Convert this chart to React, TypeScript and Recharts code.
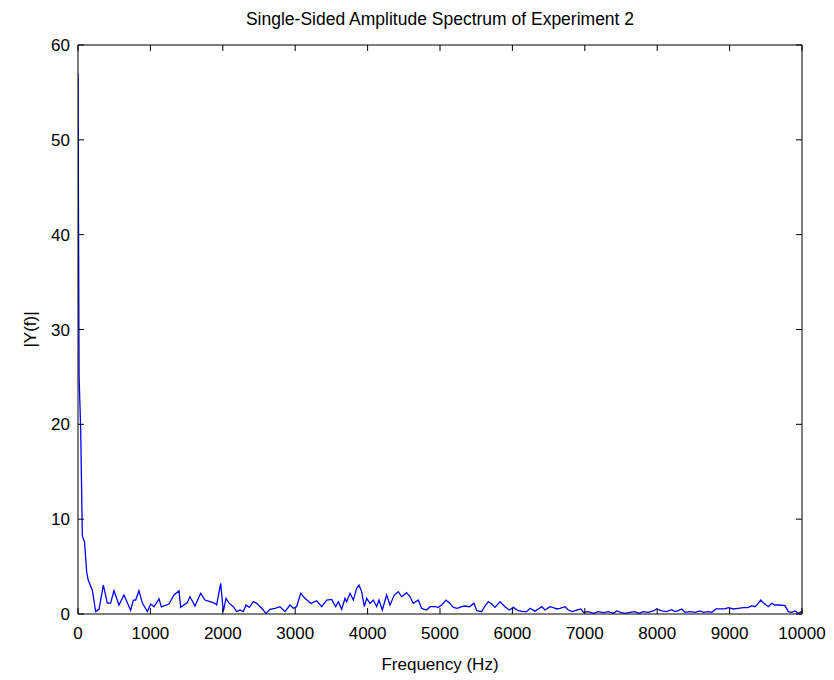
// Single-sided amplitude spectrum drawn with Recharts

import { LineChart, Line, XAxis, YAxis, Label } from 'recharts';

const freqHz = [
  0, 15, 37, 60, 90, 120, 140, 198, 244, 290, 350, 405, 450, 497, 566, 635, 727, 764, 797, 842,
  889, 958, 1004, 1050, 1119, 1151, 1257, 1326, 1395, 1418, 1510, 1547, 1616, 1694, 1754, 1823, 1892, 1915, 1971, 2007,
  2044, 2090, 2145, 2192, 2238, 2283, 2320, 2366, 2422, 2468, 2537, 2597, 2652, 2721, 2790, 2859, 2928, 2974, 3020, 3076,
  3135, 3218, 3297, 3366, 3435, 3504, 3559, 3596, 3642, 3688, 3711, 3757, 3803, 3849, 3881, 3918, 3955, 3987, 4033, 4079,
  4125, 4157, 4203, 4263, 4309, 4369, 4424, 4470, 4539, 4586, 4631, 4700, 4747, 4783, 4816, 4862, 4931, 4977, 5023, 5083,
  5138, 5184, 5239, 5299, 5345, 5405, 5470, 5507, 5576, 5622, 5667, 5714, 5760, 5829, 5898, 5957, 6013, 6082, 6151, 6197,
  6243, 6312, 6358, 6405, 6450, 6519, 6565, 6612, 6657, 6727, 6772, 6827, 6888, 6947, 6980, 7048, 7118, 7187, 7256, 7325,
  7394, 7440, 7500, 7555, 7624, 7693, 7749, 7808, 7877, 7946, 7993, 8062, 8131, 8200, 8246, 8290, 8338, 8384, 8453, 8522,
  8591, 8637, 8706, 8753, 8812, 8867, 8936, 8982, 9051, 9120, 9189, 9258, 9305, 9351, 9396, 9429, 9475, 9535, 9581, 9627,
  9696, 9765, 9811, 9857, 9903, 9949, 10000,
];

const amplitude = [
  57, 25, 19.5, 8.2, 7.6, 4.4, 3.6, 2.5, 0.25, 0.5, 3.05, 1.15, 1.15, 2.45, 0.95, 2.0, 0.4, 1.47, 1.47, 2.45,
  1.15, 0.25, 1.05, 0.75, 1.6, 0.75, 1.05, 2.0, 2.45, 0.7, 1.2, 1.82, 0.84, 2.18, 1.47, 1.3, 1.12, 0.95, 3.23, 0.25,
  1.65, 1.12, 0.77, 0.25, 0.42, 0.25, 0.95, 0.7, 1.3, 1.12, 0.6, 0.07, 0.49, 0.6, 0.77, 0.25, 0.95, 0.6, 0.77, 2.18,
  1.65, 1.12, 1.4, 0.77, 1.47, 1.54, 0.77, 1.3, 0.49, 1.65, 1.3, 2.18, 1.47, 2.7, 3.05, 2.35, 0.77, 1.65, 1.12, 1.47,
  0.77, 1.47, 0.42, 2.0, 0.95, 2.0, 2.35, 1.82, 2.25, 1.82, 1.12, 1.47, 0.6, 0.49, 0.42, 0.77, 0.77, 0.7, 0.95, 1.47,
  1.12, 0.7, 0.6, 0.77, 0.84, 0.77, 1.12, 0.35, 0.25, 0.84, 1.3, 1.05, 0.7, 1.3, 0.77, 0.42, 0.7, 0.35, 0.25, 0.25,
  0.6, 0.3, 0.53, 0.77, 0.42, 0.77, 0.67, 0.53, 0.6, 0.77, 0.42, 0.25, 0.42, 0.53, 0.18, 0.25, 0.07, 0.25, 0.14, 0.25,
  0.07, 0.32, 0.18, 0.07, 0.18, 0.25, 0.07, 0.25, 0.18, 0.32, 0.53, 0.32, 0.25, 0.45, 0.25, 0.35, 0.53, 0.18, 0.25, 0.18,
  0.32, 0.18, 0.25, 0.18, 0.53, 0.53, 0.53, 0.67, 0.53, 0.6, 0.67, 0.67, 0.88, 0.77, 1.12, 1.47, 1.12, 0.77, 1.12, 0.95,
  0.95, 0.88, 0.25, 0.18, 0.32, 0.07, 0.3,
];

const xTicks = [0, 1000, 2000, 3000, 4000, 5000, 6000, 7000, 8000, 9000, 10000];
const yTicks = [0, 10, 20, 30, 40, 50, 60];

const FONT = '"Liberation Sans", Arial, sans-serif';
const TICK_LEN = 6;
const LEFT_GAP = 8; // gap between y labels and axis
const BOTTOM_GAP = 10; // gap between axis and x labels

// MATLAB style: tick marks point into the plot box, labels stay outside
const BottomTick = ({ x, y, payload }: any) => (
  <g>
    <line x1={x} x2={x} y1={y - BOTTOM_GAP} y2={y - BOTTOM_GAP - TICK_LEN} stroke="#000" />
    <text x={x} y={y} dy={15} textAnchor="middle" fill="#000" fontSize={17} fontFamily={FONT}>
      {payload.value}
    </text>
  </g>
);

const LeftTick = ({ x, y, payload }: any) => (
  <g>
    <line x1={x + LEFT_GAP} x2={x + LEFT_GAP + TICK_LEN} y1={y} y2={y} stroke="#000" />
    <text x={x} y={y} dy={6} textAnchor="end" fill="#000" fontSize={17} fontFamily={FONT}>
      {payload.value}
    </text>
  </g>
);

const TopTick = ({ x, y }: any) => <line x1={x} x2={x} y1={y} y2={y + TICK_LEN} stroke="#000" />;

const RightTick = ({ x, y }: any) => <line x1={x - TICK_LEN} x2={x} y1={y} y2={y} stroke="#000" />;

export default function App() {
  const data = freqHz.map((f, i) => ({ f, amp: amplitude[i] }));

  return (
    <div style={{ position: 'absolute', left: 0, top: 0, width: 834, height: 680, background: '#fff' }}>
      <div
        style={{
          position: 'absolute',
          left: 78,
          width: 724,
          top: 9,
          textAlign: 'center',
          fontFamily: FONT,
          fontSize: 17.5,
          color: '#000',
        }}
      >
        Single-Sided Amplitude Spectrum of Experiment 2
      </div>
      <LineChart width={834} height={680} data={data} margin={{ top: 44, right: 31, bottom: 0, left: 0 }}>
        <XAxis
          xAxisId="b"
          dataKey="f"
          type="number"
          domain={[0, 10000]}
          ticks={xTicks}
          allowDataOverflow
          height={66}
          stroke="#000"
          tickLine={false}
          tickSize={0}
          tickMargin={BOTTOM_GAP}
          tick={BottomTick}
          interval={0}
        >
          <Label
            value="Frequency (Hz)"
            position="insideBottom"
            offset={10}
            style={{ fill: '#000', fontSize: 17, fontFamily: FONT }}
          />
        </XAxis>
        <XAxis
          xAxisId="t"
          orientation="top"
          dataKey="f"
          type="number"
          domain={[0, 10000]}
          ticks={xTicks}
          allowDataOverflow
          height={1}
          stroke="#000"
          tickLine={false}
          tickSize={0}
          tickMargin={0}
          tick={TopTick}
          interval={0}
        />
        <YAxis
          yAxisId="l"
          type="number"
          domain={[0, 60]}
          ticks={yTicks}
          allowDataOverflow
          width={78}
          stroke="#000"
          tickLine={false}
          tickSize={0}
          tickMargin={LEFT_GAP}
          tick={LeftTick}
          interval={0}
        >
          <Label
            content={({ viewBox }: any) => (
              <text
                x={viewBox.x + 36}
                y={viewBox.y + viewBox.height / 2}
                transform={`rotate(-90, ${viewBox.x + 36}, ${viewBox.y + viewBox.height / 2})`}
                textAnchor="middle"
                style={{ fill: '#000', fontSize: 17, fontFamily: FONT }}
              >
                |Y(f)|
              </text>
            )}
          />
        </YAxis>
        <YAxis
          yAxisId="r"
          orientation="right"
          type="number"
          domain={[0, 60]}
          ticks={yTicks}
          allowDataOverflow
          width={1}
          stroke="#000"
          tickLine={false}
          tickSize={0}
          tickMargin={0}
          tick={RightTick}
          interval={0}
        />
        <Line
          xAxisId="b"
          yAxisId="l"
          dataKey="amp"
          type="linear"
          stroke="#0000ff"
          strokeWidth={1.3}
          dot={false}
          isAnimationActive={false}
        />
      </LineChart>
    </div>
  );
}
